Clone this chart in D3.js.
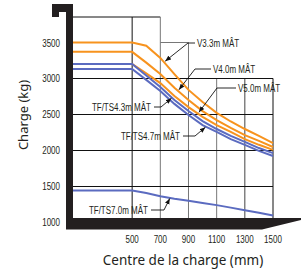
<!DOCTYPE html>
<html>
<head>
<meta charset="utf-8">
<script src="https://cdnjs.cloudflare.com/ajax/libs/d3/7.8.5/d3.min.js"></script>
<style>
  body { margin: 0; background: #fff; }
  .narrow { font-family: 'Liberation Sans', Arial, sans-serif; }
</style>
</head>
<body>
<div id="chart"></div>
<script>
// load centres (mm) shared by every curve
var loadCentres = [80, 500, 600, 700, 800, 900, 1000, 1100, 1200, 1300, 1400, 1500];

// capacity (kg) per mast, read from the plate
var v33  = [3500, 3500, 3455, 3285, 3060, 2840, 2670, 2520, 2400, 2295, 2200, 2100];
var v40  = [3370, 3370, 3220, 3060, 2870, 2700, 2545, 2420, 2310, 2210, 2130, 2045];
var v50  = [3200, 3200, 3070, 2935, 2755, 2600, 2465, 2350, 2255, 2155, 2075, 2005];
var ts43 = [3200, 3200, 3040, 2880, 2700, 2545, 2405, 2295, 2200, 2115, 2030, 1960];
var ts47 = [3130, 3130, 2980, 2825, 2645, 2490, 2350, 2255, 2155, 2075, 1990, 1920];
var ts70 = [1440, 1440, 1405, 1360, 1325, 1295, 1265, 1235, 1200, 1165, 1130, 1090];

var seriesNames = ["V3.3m MÂT", "V4.0m MÂT", "V5.0m MÂT", "TF/TS4.3m MÂT", "TF/TS4.7m MÂT", "TF/TS7.0m MÂT"];
var seriesValues = [v33, v40, v50, ts43, ts47, ts70];

var xTicks = [500, 700, 900, 1100, 1300, 1500];
var yTicks = [1000, 1500, 2000, 2500, 3000, 3500];

var orange = "#f7931e", blue = "#5b6bc0";

var width = 304, height = 273;
var svg = d3.select("#chart").append("svg")
    .attr("width", width)
    .attr("height", height);

var x = d3.scaleLinear().domain([80, 1500]).range([73, 273]);
var y = d3.scaleLinear().domain([1000, 3500]).range([222, 42.5]);
var yTop = y.invert(17);

// grid (stepped top edge like the original plate)
var grid = svg.append("g");
grid.append("line").attr("x1", x(80)).attr("x2", x(700)).attr("y1", y(yTop)).attr("y2", y(yTop))
    .attr("stroke", "#111").attr("stroke-width", 1);
var vTop = {500: yTop, 700: yTop, 900: 3500, 1100: 3000, 1300: 3000, 1500: 3000};
var vCol = {500: "#111", 700: "#777", 900: "#777", 1100: "#777", 1300: "#444", 1500: "#111"};
xTicks.forEach(function(t) {
  grid.append("line")
      .attr("x1", x(t)).attr("x2", x(t))
      .attr("y1", y(vTop[t])).attr("y2", 219)
      .attr("stroke", vCol[t]).attr("stroke-width", 1);
});
[1500, 2000, 2500, 3000].forEach(function(t) {
  grid.append("line")
      .attr("x1", x(80)).attr("x2", x(1500))
      .attr("y1", Math.round(y(t)) + 0.5).attr("y2", Math.round(y(t)) + 0.5)
      .attr("stroke", "#111").attr("stroke-width", 1);
});
grid.append("line").attr("x1", x(700)).attr("x2", x(900)).attr("y1", y(3500)).attr("y2", y(3500))
    .attr("stroke", "#777").attr("stroke-width", 1);

// mast and forks
svg.append("path")
    .attr("d", "M52,4 L73,4 L73,218 L301,218 L301,220 L262,229.5 L66,229.5 L66,12 L59,12 L59,17 L52,17 Z")
    .attr("fill", "#231f20");

// curves
var line = d3.line()
    .x(function(d) { return x(d[0]); })
    .y(function(d) { return y(d[1]); });

seriesValues.forEach(function(vals, i) {
  var pts = loadCentres.map(function(c, j) { return [c, vals[j]]; });
  svg.append("path")
      .datum(pts)
      .attr("d", line)
      .attr("fill", "none")
      .attr("stroke", i < 3 ? orange : blue)
      .attr("stroke-width", 2);
});

// labels with leader arrows: tip sits on the curve at a given load centre
svg.append("defs").append("marker")
    .attr("id", "arr")
    .attr("viewBox", "0 0 10 10")
    .attr("refX", 10).attr("refY", 5)
    .attr("markerWidth", 6.5).attr("markerHeight", 6.5)
    .attr("orient", "auto")
  .append("path")
    .attr("d", "M0,1 L10,5 L0,9 Z")
    .attr("fill", "#111");

function valueAt(vals, c) {
  var i = d3.bisectRight(loadCentres, c) - 1;
  var t = (c - loadCentres[i]) / (loadCentres[i + 1] - loadCentres[i]);
  return vals[i] + t * (vals[i + 1] - vals[i]);
}

var labels = [
  {s: 0, tip: 726,  elbow: [188, 43],  textX: 197, side: "right"},
  {s: 1, tip: 826,  elbow: [195, 69],  textX: 213, side: "right"},
  {s: 2, tip: 967,  elbow: [217, 88],  textX: 238, side: "right"},
  {s: 3, tip: 783,  elbow: [161, 107], textX: 151, side: "left"},
  {s: 4, tip: 1024, elbow: [195, 136], textX: 180, side: "left"},
  {s: 5, tip: 769,  elbow: [164, 210], textX: 148, side: "left"}
];

labels.forEach(function(l) {
  var tx = x(l.tip), ty = y(valueAt(seriesValues[l.s], l.tip));
  var ex = l.elbow[0], ey = l.elbow[1];
  var hx = l.side === "right" ? l.textX - 2 : l.textX + 3;
  svg.append("path")
      .attr("d", "M" + hx + "," + ey + " L" + ex + "," + ey + " L" + (tx + (ex - tx) * 0.05) + "," + (ty + (ey - ty) * 0.05))
      .attr("fill", "none")
      .attr("stroke", "#111")
      .attr("stroke-width", 0.9)
      .attr("marker-end", "url(#arr)");
  svg.append("text")
      .attr("class", "narrow")
      .attr("x", l.textX)
      .attr("y", ey + 3.5)
      .attr("text-anchor", l.side === "right" ? "start" : "end")
      .attr("font-size", "10px")
      .attr("fill", "#231f20")
      .text(seriesNames[l.s]);
});

// tick labels
svg.append("g").selectAll("text")
    .data(yTicks)
  .enter().append("text")
    .attr("class", "narrow")
    .attr("x", 60)
    .attr("y", function(d) { return y(d) + 4; })
    .attr("text-anchor", "end")
    .attr("font-size", "10px")
    .attr("fill", "#231f20")
    .text(function(d) { return d; });

svg.append("g").selectAll("text")
    .data(xTicks)
  .enter().append("text")
    .attr("class", "narrow")
    .attr("x", function(d) { return x(d); })
    .attr("y", 243)
    .attr("text-anchor", "middle")
    .attr("font-size", "10px")
    .attr("fill", "#231f20")
    .text(function(d) { return d; });

// squeeze the plate's condensed lettering
svg.selectAll("text.narrow").each(function() {
  var w = this.getComputedTextLength();
  d3.select(this).attr("textLength", w * 0.8).attr("lengthAdjust", "spacingAndGlyphs");
});

// axis titles
svg.append("text")
    .attr("transform", "translate(28,115) rotate(-90)")
    .attr("text-anchor", "middle")
    .attr("font-family", "'Noto Sans', sans-serif")
    .attr("font-size", "13px")
    .attr("fill", "#231f20")
    .text("Charge (kg)");

svg.append("text")
    .attr("x", 183)
    .attr("y", 265)
    .attr("text-anchor", "middle")
    .attr("font-family", "'Noto Sans', sans-serif")
    .attr("font-size", "13.5px")
    .attr("fill", "#231f20")
    .text("Centre de la charge (mm)");
</script>
</body>
</html>
